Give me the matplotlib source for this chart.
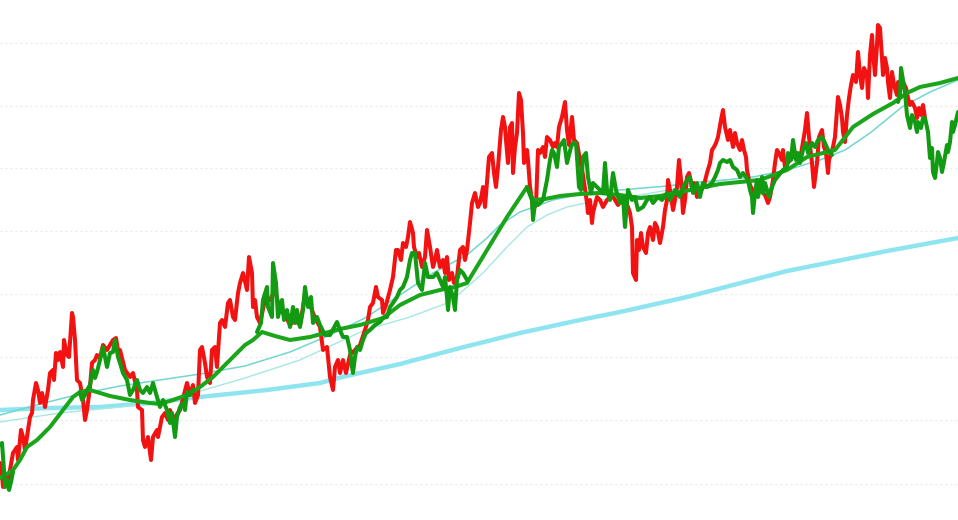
import numpy as np
import matplotlib
matplotlib.use("Agg")
import matplotlib.pyplot as plt

# price path (red); x = bar index, y = price
red_x = [0, 2, 3, 6, 8, 10, 13, 17, 18, 21, 23, 25, 27, 30, 32, 33, 36, 38, 40, 42, 45, 48, 50, 53, 54, 56, 58, 60,
         63, 64, 67, 69, 72, 73, 75, 77, 80, 83, 85, 87, 90, 92, 95, 97, 100, 103, 107, 110, 113, 116, 118, 120,
         125, 130, 133, 137, 138, 142, 143, 145, 148, 151, 153, 157, 158, 162, 165, 168, 170, 173, 180, 187, 190,
         193, 195, 198, 200, 202, 205, 207, 210, 212, 215, 217, 220, 222, 225, 228, 230, 233, 235, 238, 240, 243,
         247, 249, 252, 253, 255, 257, 260, 265, 270, 275, 280, 285, 290, 295, 300, 305, 310, 315, 320, 323, 327,
         330, 333, 335, 338, 340, 343, 346, 350, 355, 360, 365, 368, 370, 373, 376, 378, 382, 383, 386, 390, 393,
         396, 398, 401, 403, 406, 408, 410, 413, 414, 417, 419, 422, 425, 427, 430, 433, 435, 437, 440, 443, 445,
         447, 449, 452, 454, 457, 460, 463, 465, 467, 470, 472, 475, 478, 480, 482, 483, 485, 489, 492, 494, 496,
         498, 501, 503, 505, 506, 508, 510, 512, 513, 515, 517, 519, 521, 523, 524, 527, 528, 530, 532, 533, 536,
         538, 540, 543, 545, 547, 550, 553, 555, 557, 559, 562, 565, 567, 569, 572, 574, 577, 580, 583, 587, 588,
         590, 592, 593, 597, 600, 603, 607, 612, 618, 622, 625, 628, 630, 632, 633, 636, 637, 639, 641, 643, 646,
         648, 650, 653, 655, 657, 660, 663, 665, 667, 668, 670, 673, 675, 677, 679, 681, 683, 685, 687, 689, 692,
         694, 697, 700, 704, 707, 710, 712, 714, 716, 718, 721, 723, 725, 728, 730, 733, 735, 737, 740, 742, 744,
         746, 747, 750, 755, 760, 765, 768, 770, 773, 775, 777, 779, 782, 783, 785, 790, 795, 800, 805, 807, 809,
         812, 814, 817, 819, 822, 824, 826, 828, 829, 832, 833, 835, 837, 838, 840, 842, 843, 845, 847, 849, 851,
         853, 856, 858, 860, 862, 864, 867, 868, 870, 872, 873, 875, 877, 878, 880, 882, 883, 885, 887, 888, 890,
         892, 894, 897, 898, 901, 903, 906, 908, 910, 912, 915, 917, 919, 921, 923, 925]
red_y = [5.7, 4.5, 3.3, 4.2, 4.0, 5.0, 6.7, 7.3, 6.0, 9.0, 8.3, 7.0, 8.3, 10.3, 10.7, 12.0, 13.7, 13.0, 11.7, 12.7,
         11.3, 13.0, 14.7, 15.0, 14.0, 16.7, 16.0, 16.8, 15.3, 18.0, 16.5, 16.3, 20.7, 20.3, 18.0, 14.0, 13.7, 12.0,
         10.0, 11.0, 13.3, 15.7, 16.0, 16.5, 16.2, 17.5, 17.0, 17.5, 18.0, 18.2, 17.0, 17.0, 15.0, 14.3, 14.7, 13.0,
         11.3, 11.0, 8.0, 7.3, 8.3, 6.0, 8.3, 9.0, 8.3, 10.3, 10.7, 10.0, 11.0, 10.0, 11.0, 13.7, 12.5, 13.5, 11.7,
         12.5, 17.0, 17.3, 15.7, 14.3, 13.7, 17.0, 17.3, 15.3, 19.7, 20.0, 19.3, 21.7, 22.0, 20.3, 20.0, 22.7, 23.7,
         24.7, 23.0, 26.3, 24.7, 21.3, 22.0, 20.3, 19.7, 22.0, 22.0, 23.0, 21.0, 20.5, 19.5, 20.0, 19.5, 22.5, 21.5,
         20.2, 19.3, 17.0, 17.3, 14.3, 13.0, 15.3, 16.0, 14.7, 16.0, 14.7, 16.5, 17.0, 17.5, 19.0, 20.0, 21.3, 21.7,
         23.3, 22.3, 22.0, 20.7, 21.5, 23.0, 24.3, 27.0, 27.0, 26.0, 27.7, 27.3, 28.3, 29.8, 28.7, 27.3, 26.3, 26.7,
         25.3, 26.3, 29.0, 27.3, 25.3, 26.0, 27.0, 25.3, 26.0, 24.7, 26.3, 24.0, 24.7, 23.7, 24.3, 27.0, 27.3, 26.0,
         27.0, 29.7, 31.7, 32.7, 31.3, 31.7, 32.7, 33.3, 31.3, 36.3, 36.7, 34.7, 33.3, 35.3, 39.0, 40.3, 39.3, 38.0,
         35.7, 39.3, 39.7, 34.7, 37.3, 38.7, 42.7, 42.0, 38.7, 35.7, 37.0, 36.0, 33.3, 32.0, 31.0, 31.5, 37.0, 36.7,
         37.3, 36.3, 38.3, 38.0, 37.3, 37.7, 37.3, 39.3, 40.3, 41.8, 39.0, 37.5, 40.3, 38.0, 37.7, 36.0, 34.5, 31.7,
         30.7, 32.0, 29.7, 30.7, 32.3, 32.0, 31.3, 32.0, 32.5, 31.5, 32.0, 32.0, 31.3, 30.7, 29.3, 24.7, 24.0, 28.0,
         27.0, 28.7, 27.3, 26.7, 28.7, 29.3, 28.0, 29.7, 29.3, 27.7, 29.3, 31.0, 32.0, 34.0, 33.0, 31.0, 32.0, 33.3,
         36.0, 34.0, 30.7, 32.0, 34.3, 34.7, 33.3, 33.7, 32.3, 32.7, 33.5, 34.7, 35.7, 37.0, 37.3, 37.7, 38.3, 40.0,
         41.0, 39.3, 38.0, 39.0, 37.3, 38.7, 37.7, 37.0, 38.0, 37.0, 36.3, 35.0, 33.5, 32.5, 33.0, 32.5, 31.7, 32.3,
         34.0, 35.7, 37.0, 36.7, 36.0, 37.0, 35.3, 36.0, 36.5, 36.0, 39.0, 40.7, 38.3, 35.7, 33.3, 35.7, 38.3, 39.0,
         37.3, 36.7, 34.7, 36.0, 37.0, 37.3, 38.3, 41.0, 42.3, 41.5, 40.2, 38.8, 37.8, 40.5, 42.2, 43.5, 44.5, 43.8,
         46.8, 44.5, 43.2, 45.2, 44.5, 42.2, 46.5, 48.5, 46.8, 44.5, 47.5, 49.5, 49.2, 46.2, 44.5, 46.2, 45.2, 43.8,
         42.2, 44.8, 43.5, 42.5, 43.8, 43.2, 43.8, 43.2, 42.2, 41.5, 41.8, 41.2, 40.2, 41.2, 40.5, 41.5, 40.2]

# green price path (nan = gap)
nan = np.nan
grn_x = [0, 2, 4, 5, 7, 9, 11, 13, 14,
         80, 82, 85, 87, 90, 93, 95, 97, 100, 103, 107, 110, 113, 115, 118, 120, 123, 127, 130, 133, 137, 140, 143,
         147, 150, 153, 157, 160, 163, 167, 170, 172, 175, 177, 180, 183, 185, 187, 190, 193, 194,
         257, 261, 263, 267, 268, 272, 273, 276, 278, 282, 284, 287, 290, 293, 295, 297, 300, 303, 305, 308, 311,
         313, 317, 320, 325, 330, 337, 340, 343, 347, 350, 352, 353, 355, 357, 360, 363, 366, 370, 375, 380, 383,
         387, 390, 393, 397, 400, 403, 407, 410, 412, 415, 417, 418, 422, 425, 428, 433, 437, 443, 445, 447, 448,
         450, 453, 455, 457, 460, 463, 467, 468,
         527, 530, 532, 533, 535, 538, 543, 547, 550, 552, 554, 557, 559, 562, 564, 567, 569, 571, 573, 576, 577,
         579, 581, 583, 586, 588, 591, 593, 597, 600, 603, 605, 607, 610, 613, 616, 620, 623, 625, 628, 632, 635,
         638, 643, 647, 650, 653, 658, 662, 667, 670, 675, 680, 683, 687, 690, 693, 697, 700, 703, 707, 712, 715,
         718, 720, 723, 727, 730, 733, 737, 740, 743, 748, 750, 752, 753, 755, 757, 758, 760, 762, 763, 765, 769,
         772, 775, 779, 783, 787, 788, 791, 793, 796, 798, 800, 803, 806, 808, 812, 815, 818, 822, 825, 828, 832,
         833,
         898, 900, 901, 903, 905, 907, 910, 912, 915, 917, 918, 921, 923, 925, 928, 930, 932, 933, 935, 937, 938,
         940, 942, 944, 947, 948, 950, 952, 953, 955, 958]
grn_y = [7.5, 7.7, 5.0, 3.3, 4.0, 3.0, 3.8, 4.8, nan,
         12.8, 12.0, 12.5, 13.0, 13.5, 15.0, 14.2, 14.8, 16.0, 17.3, 15.3, 16.7, 16.8, 18.0, 16.3, 15.7, 14.7, 14.0,
         12.5, 13.0, 14.0, 13.0, 12.7, 13.3, 12.7, 13.7, 12.3, 11.3, 12.0, 11.0, 9.7, 10.7, 8.3, 10.3, 11.3, 11.7,
         11.0, 12.8, 12.5, 13.0, nan,
         18.8, 19.7, 22.0, 23.3, 21.3, 20.3, 25.7, 23.7, 20.3, 22.0, 20.0, 21.0, 19.3, 21.3, 19.7, 21.0, 19.3, 21.0,
         23.3, 21.3, 22.3, 19.7, 20.3, 19.5, 18.5, 18.5, 19.8, 19.0, 18.3, 18.3, 17.0, 15.3, 14.7, 16.3, 17.3, 17.0,
         18.0, 18.7, 19.0, 19.5, 19.8, 20.2, 20.3, 21.3, 21.7, 22.3, 23.0, 23.3, 24.3, 26.0, 26.7, 26.7, 24.7, 23.7,
         23.0, 25.7, 24.3, 24.3, 24.7, 23.3, 24.3, 22.3, 21.0, 23.3, 22.3, 21.0, 24.0, 25.0, 24.7, 24.0, nan,
         33.3, 32.5, 32.0, 30.0, 31.7, 31.5, 32.0, 34.0, 36.0, 37.0, 36.7, 35.3, 37.3, 37.7, 38.0, 35.7, 36.5, 37.3,
         37.7, 37.7, 36.3, 33.3, 33.0, 36.3, 36.7, 34.3, 32.7, 33.7, 33.3, 33.0, 32.7, 35.7, 33.0, 32.0, 34.7, 33.0,
         31.7, 32.3, 29.3, 33.0, 32.0, 32.3, 31.0, 31.3, 32.0, 32.3, 31.7, 32.3, 32.0, 32.7, 32.0, 33.0, 32.3, 33.3,
         34.0, 34.3, 32.7, 33.7, 32.3, 33.7, 33.3, 33.7, 34.3, 35.0, 35.7, 36.0, 35.8, 36.0, 35.3, 35.0, 34.3, 34.7,
         34.0, 33.0, 32.3, 30.7, 32.7, 34.0, 32.3, 33.3, 34.3, 32.7, 33.7, 32.3, 33.3, 34.0, 34.5, 35.0, 35.3, 36.7,
         36.0, 38.0, 36.0, 36.7, 35.7, 37.0, 37.7, 36.7, 37.7, 37.3, 38.0, 38.3, 37.7, 37.0, 36.5, nan,
         41.8, 42.5, 45.2, 44.0, 42.8, 40.5, 39.2, 40.5, 39.8, 38.8, 39.8, 39.2, 40.2, 40.2, 38.8, 36.2, 37.2, 34.8,
         34.2, 35.8, 36.8, 36.2, 34.8, 35.8, 37.5, 36.8, 37.8, 39.8, 38.8, 39.5, 40.8]

# moving averages
ma_x = [0, 7, 13, 20, 27, 37, 50, 63, 73, 80, 90, 110, 130, 150, 160, 173, 187, 200, 213, 227, 245, 253, 262, 275,
        290, 310, 325, 340, 360, 383, 400, 420, 440, 455, 467, 487, 507, 527, 533, 545, 560, 580, 600, 620, 640,
        660, 680, 700, 720, 740, 760, 787, 807, 835, 853, 873, 893, 907, 920, 940, 958]
ma_y = [4.2, 4.6, 5.0, 6.0, 7.3, 8.0, 9.3, 11.0, 12.3, 12.8, 13.0, 12.4, 12.0, 11.7, 11.6, 12.0, 12.5, 13.3, 14.3,
        15.7, 17.5, 18.0, 18.8, 18.4, 18.0, 18.3, 18.7, 19.1, 19.5, 20.2, 21.5, 22.5, 23.0, 23.3, 23.7, 27.0, 30.3,
        33.3, 32.0, 32.1, 32.4, 32.6, 32.7, 32.5, 32.2, 32.4, 32.8, 33.2, 33.6, 33.8, 34.0, 35.0, 36.3, 37.0, 39.3,
        40.6, 41.7, 42.7, 43.3, 43.7, 44.2]

thin_a_x = [0, 40, 80, 120, 160, 200, 245, 290, 330, 365, 400, 433, 467, 487, 500, 520, 553, 587, 620, 667, 700,
            725, 753, 787, 820, 845, 870, 902, 930, 958]
thin_a_y = [10.5, 11.6, 12.6, 13.4, 14.0, 14.6, 15.4, 16.8, 18.5, 20.2, 22.5, 24.7, 26.5, 28.2, 29.5, 30.8, 32.0,
            32.7, 33.0, 33.4, 33.8, 34.0, 34.3, 35.0, 36.0, 37.0, 38.7, 41.3, 42.8, 44.0]

thin_b_x = [0, 60, 120, 180, 245, 300, 365, 410, 450, 483, 507, 527, 547, 567, 600, 640, 680, 725]
thin_b_y = [9.8, 10.7, 11.3, 12.3, 14.2, 16.0, 19.0, 20.3, 21.8, 24.7, 27.3, 29.3, 30.5, 31.3, 32.0, 32.5, 33.2, 34.0]

long_x = [0, 50, 100, 150, 200, 267, 320, 342, 400, 460, 520, 580, 620, 687, 787, 887, 958]
long_y = [11.0, 11.2, 11.3, 11.7, 12.3, 13.0, 13.7, 14.3, 15.6, 17.2, 18.7, 20.0, 20.8, 22.3, 24.9, 26.9, 28.2]

grid_levels = [3.6, 10.0, 16.3, 22.6, 28.9, 35.2, 41.4, 47.7]

fig = plt.figure(figsize=(9.58, 5.2), dpi=100)
ax = fig.add_axes([0, 0, 1, 1])
ax.set_xlim(0, 958)
ax.set_ylim(0, 52)

for g in grid_levels:
    ax.axhline(g, color="#e8e8e8", lw=0.9, ls=(0, (1.5, 2.5)), zorder=0)

kw = dict(solid_capstyle="round", solid_joinstyle="round")
ax.plot(long_x, long_y, color="#8ee5ef", lw=3.2, zorder=1, **kw)
ax.plot(thin_b_x, thin_b_y, color="#a6e8e2", lw=1.0, zorder=2, **kw)
ax.plot(thin_a_x, thin_a_y, color="#72d6cf", lw=1.1, zorder=2, **kw)
ax.plot(red_x, red_y, color="#f21212", lw=2.9, zorder=3, **kw)
ax.plot(ma_x, ma_y, color="#1aa51a", lw=2.9, zorder=4, **kw)
ax.plot(grn_x, grn_y, color="#129a12", lw=2.9, zorder=5, **kw)

ax.axis("off")
fig.savefig("out.png", dpi=100)
